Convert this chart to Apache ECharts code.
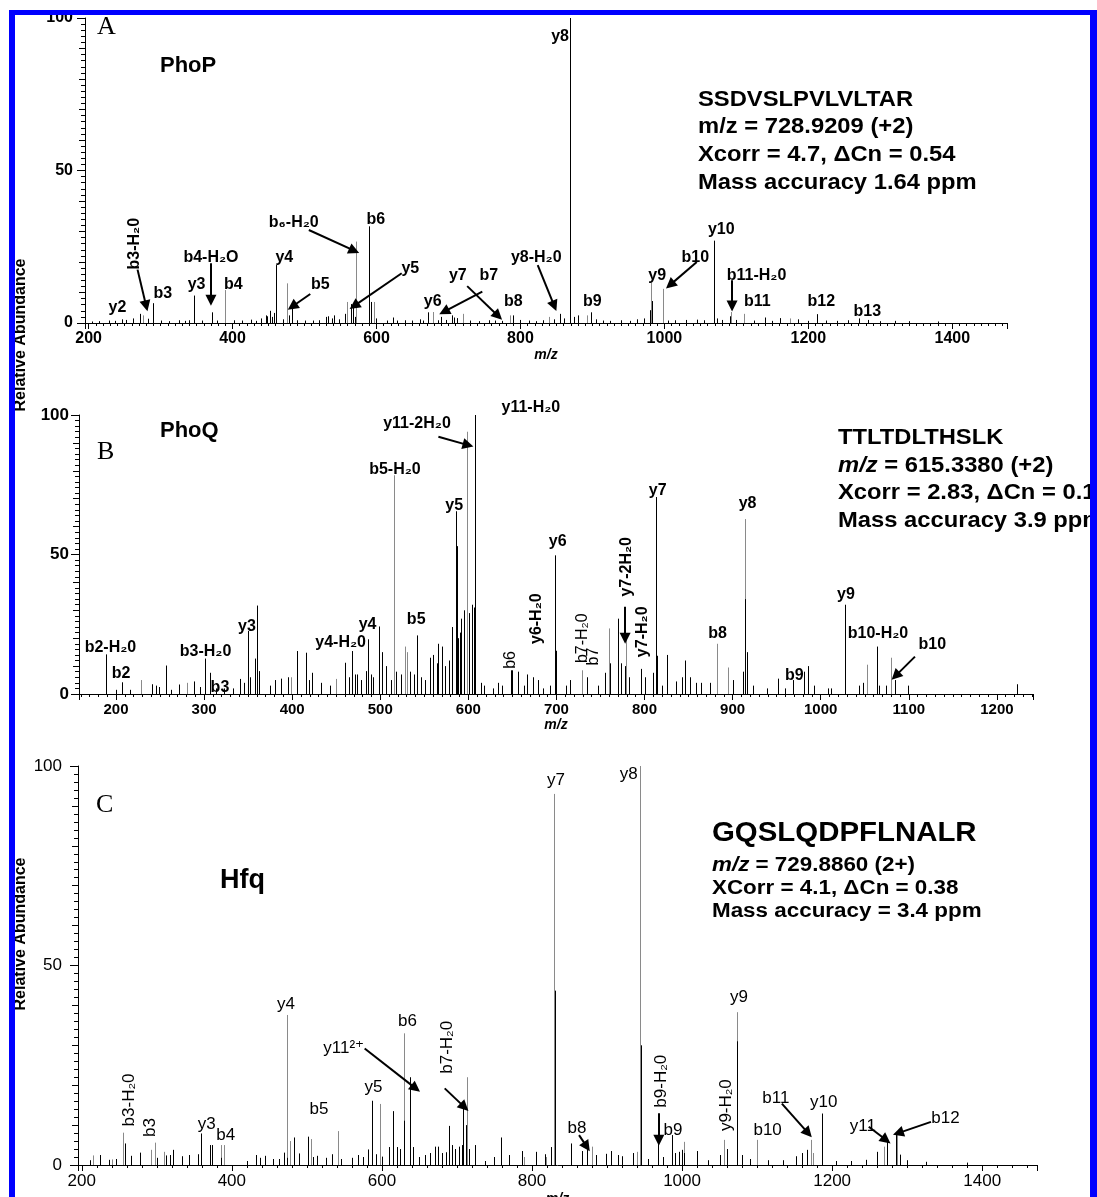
<!DOCTYPE html>
<html><head><meta charset="utf-8">
<script src="https://cdn.jsdelivr.net/npm/echarts@6/dist/echarts.min.js"></script>
<style>html,body{margin:0;padding:0;background:#fff}#c{width:1097px;height:1197px}</style>
</head><body><div id="c"></div>
<script>
// ---------- Panel A : PhoP ----------
const A_black = [[205,0.5],[215,0.6],[228,0.8],[236,0.7],[246,1.2],[252,1],[262,1.5],[272,3],[282,1.4],[290,6.5],[300,0.8],[312,0.6],[325,0.9],[334,0.7],[340,0.9],[347,9],[358,0.8],[371,3.5],[378,0.8],[402,0.9],[413,0.8],[425,1.1],[432,0.7],[440,1.5],[446,2.5],[448,2.2],[452,4],[455,2],[458,3.3],[460.3,19],[470,1.2],[478,2.5],[482,4.7],[490,0.9],[500,0.8],[512,0.8],[520,0.9],[530,2],[533,2.2],[538,1.5],[541,2.5],[548,1.2],[556,3],[565,6.2],[567,5],[570,2],[589.3,31.7],[592,6.9],[600,1.5],[615,0.8],[623,1.8],[628,0.8],[640,0.9],[650,0.8],[660,1.2],[665,0.8],[672,3.5],[685,0.9],[690,2],[697,1],[705,2.5],[708,1.8],[712,1.6],[730,0.8],[742,0.6],[756,0.9],[764,0.8],[775,0.7],[790,2.5],[800,1],[812,0.8],[822,0.6],[832,0.9],[847,1.2],[855,3],[860,1.5],[868.6,100],[875,2],[880,2.5],[898.5,3.5],[905,1.2],[915,0.8],[925,0.7],[940,0.9],[952,0.7],[962,1.2],[972,1.5],[980,4.2],[983,7.2],[1005,0.8],[1015,0.9],[1030,1],[1045,1.1],[1055,0.9],[1068.7,27],[1073,1.5],[1080,1],[1091,2.2],[1100,1],[1125,0.8],[1140,1.8],[1150,0.7],[1160,1.6],[1185,1.2],[1200,0.7],[1211.7,2.9],[1225,0.8],[1240,0.7],[1255,0.9],[1270,1.5],[1282.7,1],[1300,0.6],[1320,0.7],[1340,0.6],[1380,0.5]];
const A_gray = [[276,2.5],[389.2,10.8],[476,13],[559.4,6.9],[572,26.7],[596,6.9],[678,3.6],[720,3],[785,2.5],[840,2],[892,2.5],[981.7,13.2],[997.6,11.2],[1093,3.6],[1110.6,3],[1175,1.5]];
const A_labels = [['y2',240,5.2],['b3',303,9.8],['y3',350,12.5],['b4-H₂O',370,21.3],['b4',401,12.5],['y4',472,21.3],['b5',522,12.5],['b₆-H₂0',485,33],['b6',599,33.8],['y5',647,18],['y6',678,6.9],['y7',713,15.7],['b7',756,15.7],['b8',790,6.9],['y8-H₂0',822,21.3],['y8',855,94],['b9',900,6.9],['y9',990,15.7],['b10',1043,21.3],['y10',1079,30.5],['b11-H₂0',1128,15.7],['b11',1129,6.9],['b12',1218,6.9],['b13',1282,3.6]];
const A_labelsRot = [['b3-H₂0',264,26]];
const A_arrows = [[268,17.5,280,5.6],[370,19.6,370,7.5],[506,30.5,569,23.7],[635,16.3,569,5.6],[508,9.5,483,5.4],[747,10.3,694,3.7],[726,12.1,769,2.3],[824,19,847,5.6],[1045,20,1008,12.5],[1094,14,1094,5.6]];
const A_info = ['SSDVSLPVLVLTAR','m/z = 728.9209 (+2)','Xcorr = 4.7, ΔCn = 0.54','Mass accuracy 1.64 ppm'];

// ---------- Panel B : PhoQ ----------
const B_black = [[189,14.2],[200,1.5],[207,4.2],[216,1.5],[241,3.5],[245,3],[249,2.5],[257,10.2],[263,1.5],[272,3.4],[289,4.5],[295,2.5],[301,12.7],[307,7.6],[314,2],[323,2],[333,2],[341,5.4],[345,4],[350,22.6],[352,6],[358,12.7],[360,31.7],[362,8.2],[375,3],[380,5],[387,5.5],[395,6],[405,15.4],[416,14.8],[419,5],[422,7.6],[433,4],[443,3],[460,11.2],[464,6],[468,15.4],[471,7],[474,7],[478,5],[484,8.2],[486,19.6],[489,7],[492,6],[498,24.2],[502,15],[506,10],[512,5],[518,8],[524,7],[534,8],[538,7],[542,21],[546,6],[551,5],[556,13],[560,14],[564,11],[566,18],[570,17],[574,10],[578,12],[581,24],[586,65.5],[587,53],[588,20],[590,22],[592,27],[595,30],[601,29],[604,32],[606,31],[607.5,100],[614,4],[618,3],[628,2],[634,4],[638,3],[648,8.5],[650,8.5],[656,8],[663,3],[667,7],[673,6],[679,5],[685,2],[693,3],[698.4,49.7],[699.5,15.5],[711,3],[715,5],[735,6],[747,3],[755,7.6],[761,11],[770,27],[773,11],[778,10],[782,6],[796,9],[801,6],[810,7.6],[813.4,70.6],[814.5,13.7],[820,3],[826,14],[836,4.5],[842,6],[846,12],[852,6],[858,4],[864,4],[874,4],[901,5],[912,8],[914.5,34],[916,15],[923,3],[939,2],[951,5.5],[959,2],[969,5],[981,8],[986,10],[992,3],[1008,2],[1012,2],[1027.6,32],[1044,3],[1048,4],[1064,17],[1066,3],[1074,3],[1084,5],[1099,3],[1223,3.5]];
const B_gray = [[228,5],[281,4],[399,6],[450,5.4],[516,78.4],[528,17],[530,15],[598,94],[599,59.7],[729,8.5],[760,23.5],[779,20.5],[882,18],[895,9.5],[913.5,62.7],[1052,10.5],[1080,13]];
const B_labels = [['b2-H₂0',193.7,16.5],['b2',205.7,7.2],['b3-H₂0',301.6,15.2],['b3',318,2.2],['y3',348.6,24],['y4-H₂0',455,18.3],['y4',485.6,24.7],['b5',540.8,26.8],['b5-H₂0',516.7,80.3],['y5',584,67.7],['y11-2H₂0',541.7,96.8],['y11-H₂0',671,102.5],['y6',701.5,54.6],['y7',815,73],['y8',917,68.4],['b8',883,21.8],['b9',970,6.5],['y9',1028.6,35.5],['b10-H₂0',1065,21.8],['b10',1126.7,17.6]];
const B_labelsRot = [['y6-H₂0',677,27],['y7-2H₂0',780,45.6],['y7-H₂0',798,22.3]];
const B_labelsRotThin = [['b6',648,12.2],['b7-H₂0',730,20],['b7',742.6,13.4]];
const B_arrows = [[566,92.2,599.7,89.2],[778,31.3,778,20],[1107,13.4,1085,6.5]];
const B_info = ['TTLTDLTHSLK',' = 615.3380 (+2)','Xcorr = 2.83, ΔCn = 0.13','Mass accuracy 3.9 ppm'];

// ---------- Panel C : Hfq ----------
const C_black = [[211,1.2],[224,2.5],[236,1.3],[246,1.5],[258,5.4],[266,2.3],[278,3.1],[300,1.8],[312,2.4],[318,2.5],[321,3.8],[334,2.2],[343,2.5],[355,2.7],[359.2,7.9],[371,5],[374,5],[386,1.8],[420,1],[432,2.5],[438,1.8],[444,2.3],[455,1.5],[463,1.5],[469,3.1],[474,1.8],[483,6.9],[490,2.9],[501,7.1],[508,2],[514,2.3],[525,1.8],[533,2.7],[545,1.5],[560,1.8],[568,2.5],[575,2],[581,3.9],[586.4,16.1],[592,2.7],[600,2.1],[610,4.5],[615,13.5],[620,4.5],[624,4],[629,11.1],[637.4,22],[642,4.5],[650,2],[657,2.5],[664,3],[671,4.6],[675,4.6],[680,3],[686,3.2],[690,9.8],[693,5],[698,4],[703,4.6],[707,5],[708.3,14.6],[712,10],[716,4],[724,5],[738,1],[750,2],[759,6.9],[769,2.5],[787,3.5],[806,3.3],[818,2.7],[826,4.5],[830.5,43.7],[852,5.4],[866,3.5],[873.4,4.6],[885,2.5],[898,2.8],[905,3.5],[915,2.5],[920,2.2],[935,3],[945.5,30],[954,1.5],[968.5,5.8],[975,2],[986.5,7.5],[990,3],[996,3.3],[1000,3.8],[1003,3],[1020,3.5],[1035,1.2],[1050,2.5],[1060,4],[1073.6,31],[1080,2.5],[1090,1.5],[1115,1.2],[1135,1.2],[1152,2.2],[1160,3],[1166,3.8],[1186.7,12.9],[1205,1],[1225,1],[1245,1.3],[1260,3.3],[1273.7,6.3],[1284.7,8],[1290,2.6],[1300,1.2],[1325,0.8],[1380,0.6]];
const C_gray = [[215,2.4],[240,1.4],[255.1,8.1],[292,3.8],[298,5.6],[310,3.3],[386.2,5],[390,5],[473.3,37.6],[477,6],[506,6.5],[542,8.5],[598,15.3],[624.5,3.3],[629.3,33],[714,22],[790,2],[818.5,2],[829.5,93],[880,4.6],[940,3.3],[944.5,100],[1002,5.8],[1055.6,6.3],[1073,38.3],[1100.5,6.3],[1171.6,6.3],[1175,3],[1269,4.6],[1287,8.1]];
const C_labels = [['y3',366.6,10.3],['b4',392,7.5],['y4',472,40.3],['b5',516,14],['y5',588.7,19.5],['b6',634,36],['y11²⁺',549,29.3],['y7',832,96.4],['y8',929,97.9],['b8',860,9.2],['b9',988,8.6],['y9',1076,42],['b10',1114,8.75],['b11',1125,16.7],['y10',1188.7,15.6],['y11',1241,9.8],['b12',1351,11.8]];
const C_labelsRot = [['b3-H₂0',263.7,16.3],['b3',291.7,9.4],['b7-H₂0',686.7,29.5],['b9-H₂0',971.7,21],['y9-H₂0',1059,15]];
const C_arrows = [[577,29.2,645,19.2],[683.7,19.2,710,14.5],[862.7,7.5,873,4.6],[969,13,969,6.2],[1133,15.4,1168,8],[1248.8,9.6,1272,6.25],[1331.7,10.8,1288,8]];
const C_info = ['GQSLQDPFLNALR',' = 729.8860 (2+)','XCorr = 4.1, ΔCn = 0.38','Mass accuracy = 3.4 ppm'];

const axisTicksY = ['0','50','100'];

// ---------- build ----------
const FF = "'Liberation Sans', Arial, 'DejaVu Sans', sans-serif";
const SERIF = "'Liberation Serif', 'Times New Roman', serif";
const chart = echarts.init(document.getElementById('c'), null, {renderer:'canvas'});

const grids = [
  {left:85, top:18, width:922, height:305},
  {left:79, top:415, width:954, height:279},
  {left:78, top:766, width:959, height:399}
].map(g => Object.assign({outerBoundsMode:'none', containLabel:false}, g));

function xAx(gi, min, max, step, minorSplit, fw, fs, nameGap){
  return {type:'value', gridIndex:gi, min, max, minInterval:step, maxInterval:step,
    splitLine:{show:false},
    axisLine:{onZero:false, lineStyle:{color:'#000', width:1}},
    axisTick:{length:6, lineStyle:{color:'#000'}},
    minorTick:{show:true, splitNumber:minorSplit, length:3, lineStyle:{color:'#000'}},
    minorSplitLine:{show:false},
    axisLabel:{color:'#000', fontFamily:FF, fontWeight:fw, fontSize:fs, margin:8,
      formatter: v => (Math.abs(v % step) < 1e-6 ? String(v) : '')},
    name:'m/z', nameLocation:'middle', nameGap,
    nameTextStyle:{color:'#000', fontFamily:FF, fontStyle:'italic', fontWeight:'bold', fontSize:14}
  };
}
function yAx(gi, fw, fs, margin){
  return {type:'value', gridIndex:gi, min:0, max:100, interval:50, position:'left',
    splitLine:{show:false},
    axisLine:{show:true, onZero:false, lineStyle:{color:'#000', width:1}},
    axisTick:{show:true, length:8, lineStyle:{color:'#000'}},
    minorTick:{show:true, splitNumber:25, length:4, lineStyle:{color:'#000'}},
    minorSplitLine:{show:false},
    axisLabel:{color:'#000', fontFamily:FF, fontWeight:fw, fontSize:fs, margin,
      formatter: v => axisTicksY[Math.round(v/50)] || ''}
  };
}
function yAx10(gi){
  return {type:'value', gridIndex:gi, min:0, max:100, interval:10, position:'left', offset:0,
    splitLine:{show:false}, axisLine:{show:false},
    axisTick:{show:true, length:6, lineStyle:{color:'#000'}},
    axisLabel:{show:false}};
}

function peaks(gi, data, color){
  return {type:'custom', xAxisIndex:gi, yAxisIndex:gi*2, data, encode:{x:0, y:1},
    silent:true, animation:false, clip:false,
    renderItem:(p, api) => {
      const a = api.coord([api.value(0), 0]);
      const b = api.coord([api.value(0), api.value(1)]);
      const x = Math.round(a[0]) + 0.5;
      return {type:'line', shape:{x1:x, y1:a[1], x2:x, y2:b[1]}, style:{stroke:color, lineWidth:1}};
    }};
}
function labels(gi, arr, fw, fs, rotate){
  return {type:'scatter', xAxisIndex:gi, yAxisIndex:gi*2, symbolSize:1, clip:false, silent:true, animation:false, z:6,
    itemStyle:{color:'transparent', opacity:1},
    data: arr.map(d => ({name:d[0], value:[d[1], d[2]]})),
    label:{show:true, position:'inside', formatter:'{b}', rotate, color:'#000', opacity:1,
      textBorderWidth:0, textBorderColor:'transparent',
      fontFamily:FF, fontWeight:fw, fontSize:fs}};
}
function arrows(gi, arr){
  return {type:'lines', coordinateSystem:'cartesian2d', xAxisIndex:gi, yAxisIndex:gi*2,
    silent:true, animation:false, z:7, symbol:['none','triangle'], symbolSize:11,
    lineStyle:{color:'#000', width:2, opacity:1, curveness:0},
    data: arr.map(d => ({coords:[[d[0], d[1]], [d[2], d[3]]]}))};
}

function txt(x, y, text, font, sx){
  return {type:'text', x, y, z:20, silent:true, scaleX:sx||1,
    style:{text, font, fill:'#000', textAlign:'left', textVerticalAlign:'middle'}};
}
function richLine(x, y, rest, size, sx){
  return {type:'text', x, y, z:20, silent:true, scaleX:sx||1, style:{
    text:'{i|m/z}{n|' + rest + '}', textVerticalAlign:'middle', fill:'#000',
    rich:{i:{fontStyle:'italic', fontWeight:'bold', fontSize:size, fontFamily:FF, fill:'#000'},
          n:{fontWeight:'bold', fontSize:size, fontFamily:FF, fill:'#000'}}}};
}

const graphics = [
  txt(97, 27, 'A', '26px ' + SERIF),
  txt(97, 452, 'B', '26px ' + SERIF),
  txt(96, 805, 'C', '26px ' + SERIF),
  txt(160, 66, 'PhoP', 'bold 22px ' + FF),
  txt(160, 431, 'PhoQ', 'bold 22px ' + FF),
  txt(220, 881, 'Hfq', 'bold 27px ' + FF),
  // A info
  txt(698, 100, A_info[0], 'bold 22px ' + FF, 1.08),
  txt(698, 127, A_info[1], 'bold 22px ' + FF, 1.08),
  txt(698, 155, A_info[2], 'bold 22px ' + FF, 1.08),
  txt(698, 183, A_info[3], 'bold 22px ' + FF, 1.08),
  // B info
  txt(838, 438, B_info[0], 'bold 22px ' + FF, 1.08),
  richLine(838, 466, B_info[1], 22, 1.08),
  txt(838, 493, B_info[2], 'bold 22px ' + FF, 1.08),
  txt(838, 521, B_info[3], 'bold 22px ' + FF, 1.08),
  // C info
  txt(712, 833, C_info[0], 'bold 28px ' + FF, 1.05),
  richLine(712, 865, C_info[1], 20, 1.12),
  txt(712, 888, C_info[2], 'bold 20px ' + FF, 1.12),
  txt(712, 911, C_info[3], 'bold 20px ' + FF, 1.12),
  // y-axis titles
  {type:'text', x:21, y:335, rotation:Math.PI/2, z:20, silent:true,
   style:{text:'Relative Abundance', font:'bold 16px ' + FF, fill:'#000', textAlign:'center', textVerticalAlign:'middle'}},
  {type:'text', x:21, y:934, rotation:Math.PI/2, z:20, silent:true,
   style:{text:'Relative Abundance', font:'bold 16px ' + FF, fill:'#000', textAlign:'center', textVerticalAlign:'middle'}},
  // blue frame
  {type:'rect', z:100, silent:true, shape:{x:9, y:10, width:6, height:1187}, style:{fill:'#0000ff'}},
  {type:'rect', z:100, silent:true, shape:{x:9, y:10, width:1088, height:5}, style:{fill:'#0000ff'}},
  {type:'rect', z:100, silent:true, shape:{x:1090, y:10, width:7, height:1187}, style:{fill:'#0000ff'}}
];

const option = {
  backgroundColor:'#ffffff',
  animation:false,
  grid: grids,
  xAxis: [
    xAx(0, 195, 1476, 200, 20, 'bold', 16, 19),
    xAx(1, 158, 1241, 100, 10, 'bold', 15, 22),
    xAx(2, 195, 1473, 200, 10, 'normal', 17, 27)
  ],
  yAxis: [
    yAx(0, 'bold', 16, 12), yAx10(0),
    yAx(1, 'bold', 17, 10), yAx10(1),
    yAx(2, 'normal', 17, 16), yAx10(2)
  ],
  series: [
    peaks(0, A_gray, '#8a8a8a'), peaks(0, A_black, '#000'),
    labels(0, A_labels, 'bold', 16, 0), labels(0, A_labelsRot, 'bold', 16, 90), arrows(0, A_arrows),
    peaks(1, B_gray, '#8a8a8a'), peaks(1, B_black, '#000'),
    labels(1, B_labels, 'bold', 16, 0), labels(1, B_labelsRot, 'bold', 16, 90), labels(1, B_labelsRotThin, 'normal', 16, 90), arrows(1, B_arrows),
    peaks(2, C_gray, '#8a8a8a'), peaks(2, C_black, '#000'),
    labels(2, C_labels, 'normal', 17, 0), labels(2, C_labelsRot, 'normal', 17, 90), arrows(2, C_arrows)
  ],
  graphic: graphics
};
chart.setOption(option);
</script></body></html>
